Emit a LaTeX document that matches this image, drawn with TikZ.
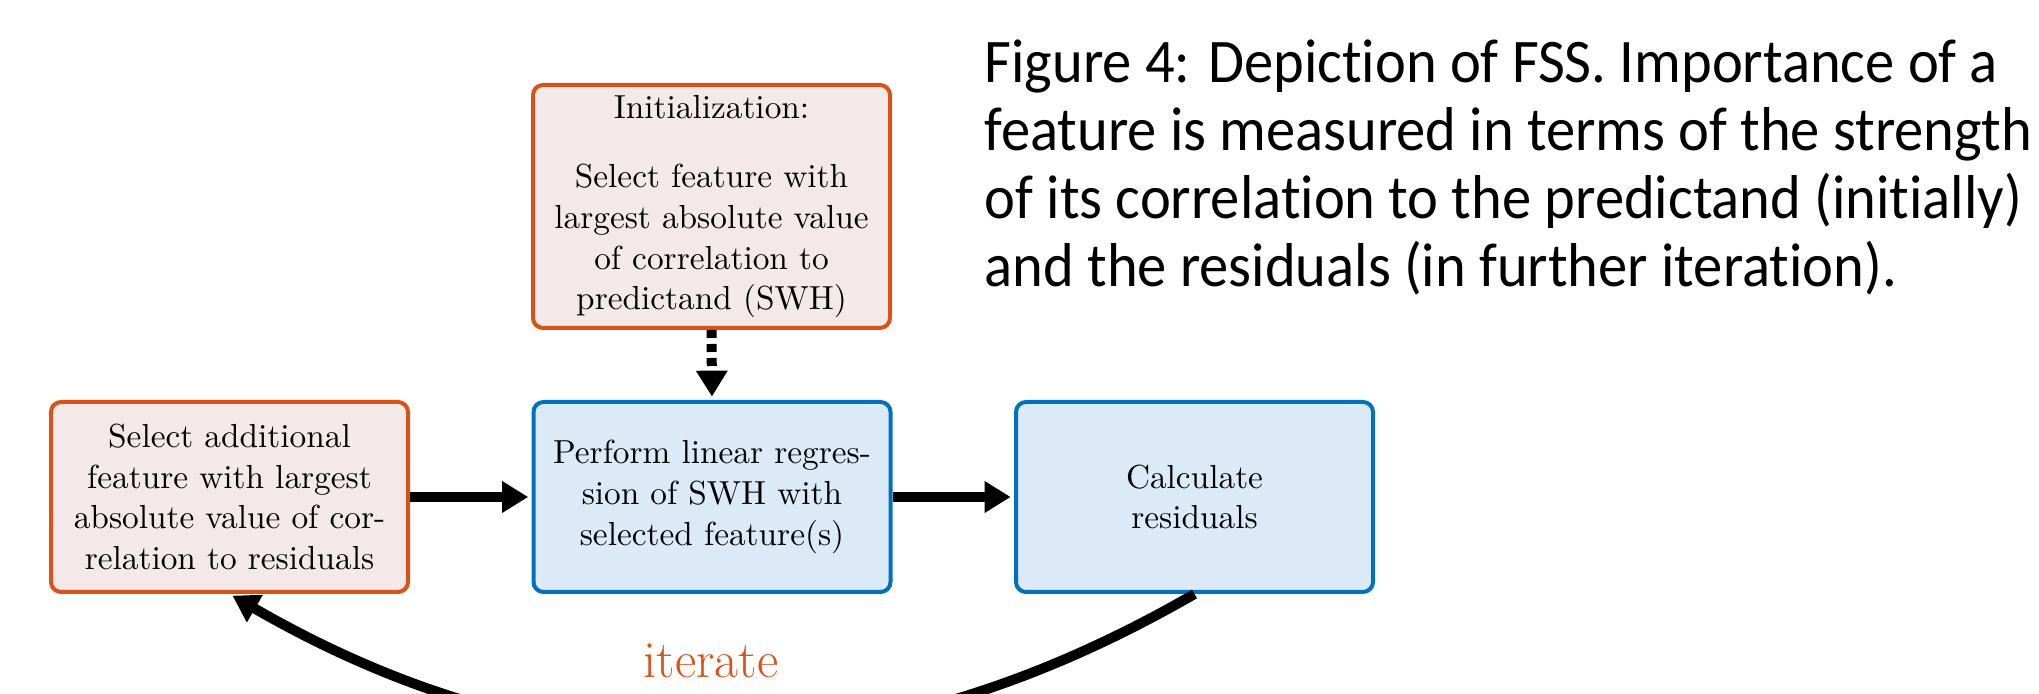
\documentclass[tikz,border=0pt]{standalone}
\usepackage{fontspec}
\newfontfamily\capfont[FakeStretch=0.944,Ligatures=NoCommon]{Carlito}
\usetikzlibrary{arrows.meta}
\definecolor{morange}{HTML}{D95319}
\definecolor{mblue}{HTML}{0072BD}
\definecolor{ofill}{HTML}{F4E9E9}
\definecolor{bfill}{HTML}{DCEAF8}
\begin{document}
\begin{tikzpicture}[x=0.3pt,y=0.3pt,
  box/.style={draw, line width=1.2pt, rounded corners=3pt, minimum width=107.1pt,
    minimum height=57pt, align=center, inner sep=0pt,
    font=\fontsize{10}{12.2}\selectfont},
  obox/.style={box, draw=morange, fill=ofill},
  bbox/.style={box, draw=mblue, fill=bfill},
  thickarrow/.style={line width=3pt, -{Triangle[length=7.8pt,width=9pt]}, shorten >=1pt},
  captxt/.style={anchor=base west, align=left, inner sep=0pt,
    font=\capfont\fontsize{18.6}{20.4}\selectfont},
  itertxt/.style={anchor=base, inner sep=0pt, text=morange,
    font=\fontsize{15.6}{18}\selectfont}
]
\useasboundingbox (0,0) rectangle (2039,-694);
\clip (0,0) rectangle (2039,-694);

\node[obox, minimum height=72.9pt] (init) at (711.5,-206.5)
  {Initialization:\\[8.7pt]Select feature with\\largest absolute value\\of correlation to\\predictand (SWH)};
\node[obox] (sel) at (229.5,-497)
  {Select additional\\feature with largest\\absolute value of cor-\\relation to residuals};
\node[bbox] (reg) at (712,-497)
  {Perform linear regres-\\sion of SWH with\\selected feature(s)};
\node[bbox] (calc) at (1194.5,-497)
  {Calculate\\residuals};

\draw[thickarrow, dash pattern=on 2.4pt off 1.8pt] (init.south) -- (reg.north);
\draw[thickarrow] (sel.east) -- (reg.west);
\draw[thickarrow] (reg.east) -- (calc.west);
\draw[thickarrow] (calc.south) to[bend left=30] (sel.south);

\node[itertxt] (iter) at (711,-678) {iterate};

\node[captxt] (cap) at (984,-287)
  {Figure 4: Depiction of FSS. Importance of a\\
   feature is measured in terms of the strength\\
   of its correlation to the predictand (initially)\\
   and the residuals (in further iteration).};
\end{tikzpicture}
\end{document}
